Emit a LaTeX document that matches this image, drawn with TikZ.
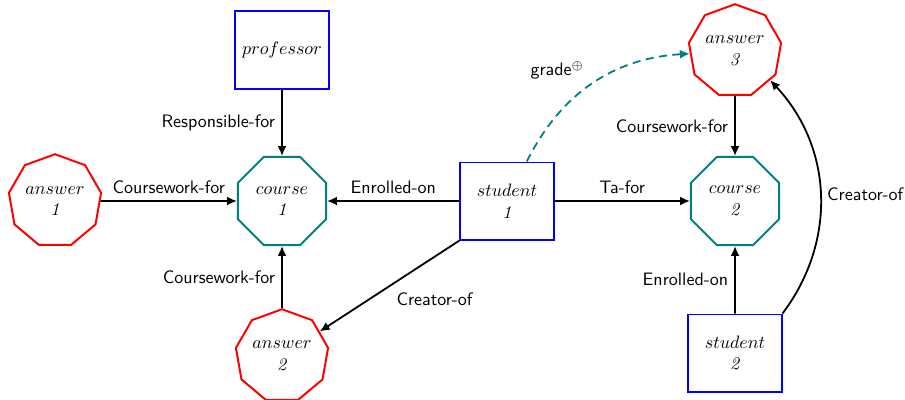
\documentclass[tikz,border=0pt]{standalone}
\usetikzlibrary{shapes.geometric,arrows.meta}
\definecolor{tealc}{RGB}{0,128,128}
\begin{document}
\begin{tikzpicture}[x=0.5556pt,y=-0.5556pt,
  ent/.style={draw=blue,line width=1.1pt,minimum width=51.7pt,minimum height=42.8pt,align=center,inner sep=1pt},
  ans/.style={draw=red,line width=1.1pt,regular polygon,regular polygon sides=9,minimum size=52pt,inner sep=0pt,align=center},
  crs/.style={draw=tealc,line width=1.1pt,regular polygon,regular polygon sides=8,minimum size=53pt,inner sep=0pt,align=center},
  rel/.style={-{Latex[length=5.5pt,width=5pt]},line width=1pt},
  lbl/.style={font=\sffamily}]
\useasboundingbox (0,0) rectangle (905,399);
\node[ans] (a1) at (55,201) {$answer$\\\textit{1}};
\node[crs] (c1) at (282,201) {$course$\\\textit{1}};
\node[ent] (prof) at (282,50) {$professor$};
\node[ans] (a2) at (282,356) {$answer$\\\textit{2}};
\node[ent] (s1) at (507,201) {$student$\\\textit{1}};
\node[crs] (c2) at (735,201) {$course$\\\textit{2}};
\node[ans] (a3) at (735,51) {$answer$\\\textit{3}};
\node[ent] (s2) at (735,353) {$student$\\\textit{2}};

\draw[rel] (prof) -- node[lbl,left] {Responsible-for} (c1);
\draw[rel] (a1) -- node[lbl,above] {Coursework-for} (c1);
\draw[rel] (a2) -- node[lbl,left] {Coursework-for} (c1);
\draw[rel] (s1) -- node[lbl,above] {Enrolled-on} (c1);
\draw[rel] (s1.south west) -- node[lbl,below right] {Creator-of} (a2);
\draw[rel] (s1) -- node[lbl,above] {Ta-for} (c2);
\draw[rel,draw=tealc,dash pattern=on 4.5pt off 3pt,-{Latex[length=5.5pt,width=5pt,fill=tealc]}] (s1) to[bend left=30] node[lbl,pos=0.5,above left,xshift=-1pt,yshift=-1.5pt] {grade$^{\oplus}$} (a3);
\draw[rel] (a3) -- node[lbl,left] {Coursework-for} (c2);
\draw[rel] (s2) -- node[lbl,left] {Enrolled-on} (c2);
\draw[rel] (s2.north east) to[bend right=40] node[lbl,right] {Creator-of} (a3);
\end{tikzpicture}
\end{document}
